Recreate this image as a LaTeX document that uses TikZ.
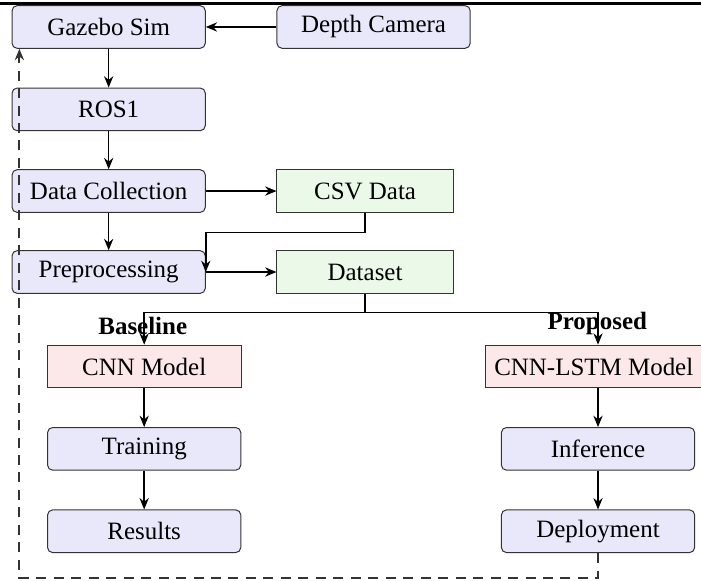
\documentclass[tikz,border=0pt]{standalone}
\usepackage{fontspec}
\setmainfont{Liberation Serif}
\usepackage{tikz}
\usetikzlibrary{positioning}
\usetikzlibrary{arrows.meta}
\definecolor{procColor}{rgb}{0.91,0.91,0.98}
\definecolor{dataColor}{rgb}{0.92,0.98,0.91}
\definecolor{modelColor}{rgb}{0.99,0.91,0.91}

\begin{document}
\begin{tikzpicture}

            \tikzstyle{procNode} = [rectangle, rounded corners=2pt, draw=black!80, fill=procColor, minimum width=2.72cm, minimum height=0.6cm, font=\normalsize];
            \tikzstyle{dataNode} = [rectangle, draw=black!80, fill=dataColor, minimum width=2.48cm, minimum height=0.6cm];
            \tikzstyle{modelNode} = [rectangle, draw=black!80, fill=modelColor, minimum width=2.73cm, minimum height=0.6cm];
            \tikzstyle{branchLabel} = [font=\bfseries];
            \tikzstyle{flowEdge} = [-{Stealth[length=1.6mm,width=1.3mm]}, semithick];
            \tikzstyle{loopEdge} = [-{Stealth[length=1.6mm,width=1.3mm]}, thick, dash pattern=on 4pt off 3pt, black!80];

            \useasboundingbox (0,0) rectangle (9.87,-8.18);
            \draw[line width=1pt] (0,-0.05) -- (9.87,-0.05);

            \node[procNode]  (gazebo)  at (1.53,-0.38) {Gazebo Sim};
            \node[procNode]  (depth)   at (5.26,-0.38) {Depth Camera};
            \node[procNode]  (ros)     at (1.53,-1.54) {ROS1};
            \node[procNode]  (collect) at (1.53,-2.69) {Data Collection};
            \node[dataNode]  (csv)     at (5.14,-2.69) {CSV Data};
            \node[procNode]  (prep)    at (1.53,-3.83) {Preprocessing};
            \node[dataNode]  (dataset) at (5.14,-3.83) {Dataset};

            \node[modelNode] (cnn)     at (2.03,-5.16) {CNN Model};
            \node[modelNode] (lstm)    at (8.36,-5.16) {CNN-LSTM Model};
            \node[procNode]  (train)   at (2.03,-6.32) {Training};
            \node[procNode]  (infer)   at (8.42,-6.32) {Inference};
            \node[procNode]  (results) at (2.03,-7.48) {Results};
            \node[procNode]  (deploy)  at (8.42,-7.48) {Deployment};

            \node[branchLabel] (baseline) at (2.01,-4.59) {Baseline};
            \node[branchLabel] (proposed) at (8.41,-4.55) {Proposed};

            \draw[flowEdge] (depth) -- (gazebo);
            \draw[flowEdge] (gazebo) -- (ros);
            \draw[flowEdge] (ros) -- (collect);
            \draw[flowEdge] (collect) -- (csv);
            \draw[flowEdge] (collect) -- (prep);
            \draw[flowEdge] (csv.south) -- ++(0,-0.28) -| (prep.east);
            \draw[flowEdge] (prep) -- (dataset);

            \draw[flowEdge] (dataset.south) -- ++(0,-0.26) -| (cnn.north);
            \draw[flowEdge] (dataset.south) -- ++(0,-0.26) -| (infer.north |- lstm.north);

            \draw[flowEdge] (cnn) -- (train);
            \draw[flowEdge] (train) -- (results);
            \draw[flowEdge] (lstm.south -| infer.north) -- (infer);
            \draw[flowEdge] (infer) -- (deploy);

            \draw[loopEdge] (deploy.south) -- ++(0,-0.35) -| ([xshift=0.11cm]gazebo.south west);
          \end{tikzpicture}
\end{document}
